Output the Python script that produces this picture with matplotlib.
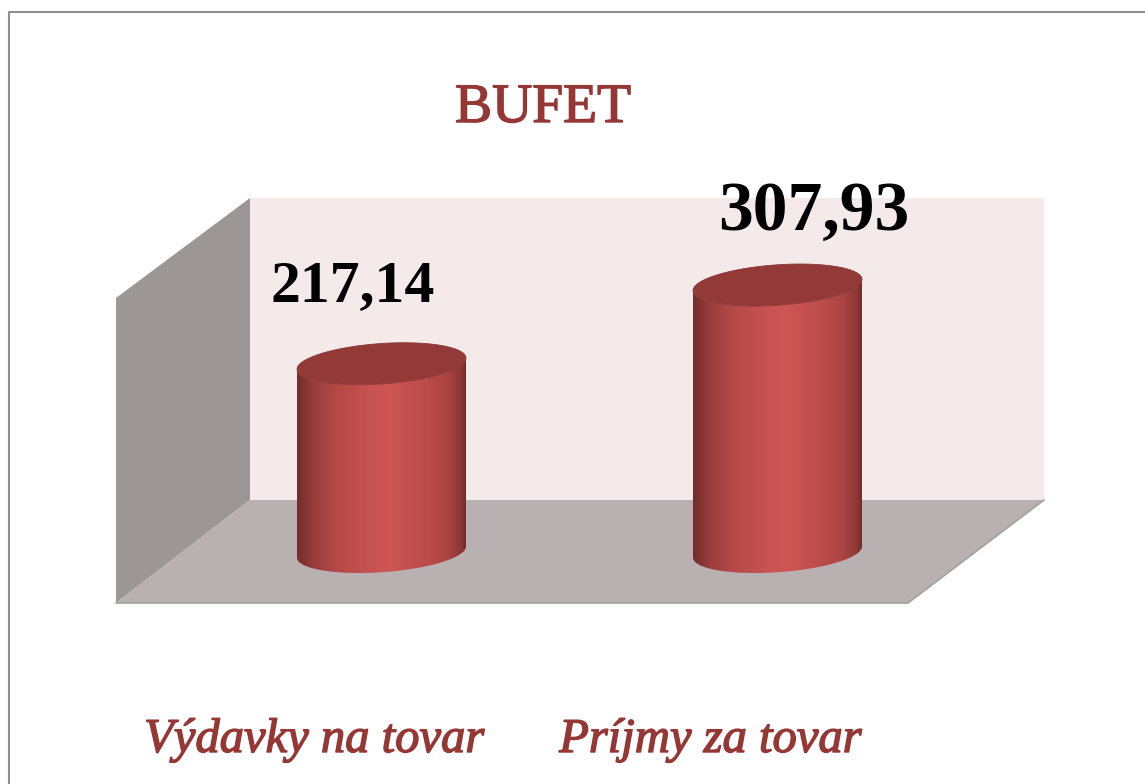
#!/usr/bin/env python3
"""BUFET - 3D style cylinder chart, expenses vs income on goods."""
import numpy as np
import matplotlib
matplotlib.use("Agg")
import matplotlib.pyplot as plt
import matplotlib.patheffects as pe
from matplotlib.colors import LinearSegmentedColormap
from matplotlib.patches import Polygon

categories = ["Výdavky na tovar", "Príjmy za tovar"]
values = [217.14, 307.93]
value_labels = ["217,14", "307,93"]
title = "BUFET"

W, H = 1145, 784
RED_TEXT = "#943735"
# cylinder x centre / baseline in pixels, and pixels per value unit
X0, DX = 381.5, 396.0
Y0, PX_PER_UNIT = 552.0, 0.867
RX, RY = 84.5, 21.0      # px, ellipse half extents
TILT = -0.27             # ellipse slant

fig = plt.figure(figsize=(W / 100, H / 100), dpi=100, facecolor="white")

# background box, in picture pixels
bg = fig.add_axes([0, 0, 1, 1])
bg.set_xlim(0, W); bg.set_ylim(H, 0); bg.axis("off")
bg.plot([8.5, 8.5, W], [H, 12, 12], color="#8f8f8f", lw=1.5)
bg.add_patch(Polygon([(250, 198), (1044, 198), (1044, 500), (250, 500)], fc="#f5eaea", ec="none"))
bg.add_patch(Polygon([(116, 298), (250, 198), (250, 500), (116, 603)], fc="#9c9696", ec="none"))
bg.add_patch(Polygon([(116, 603), (250, 500), (1044, 500), (908, 603)], fc="#b9b1b1", ec="none"))
bg.plot([116, 908, 1044], [603, 603, 500], color="#a3a0a0", lw=1.2)
bg.text(543, 122, title, color=RED_TEXT, fontsize=40, family="Liberation Serif",
        ha="center", va="baseline",
        path_effects=[pe.withStroke(linewidth=1.0, foreground=RED_TEXT)])

# value axes: same area, but x = category index and y = value
ax = fig.add_axes([0, 0, 1, 1], facecolor="none")
xlim = ((0 - X0) / DX, (W - X0) / DX)
ylim = ((Y0 - H) / PX_PER_UNIT, Y0 / PX_PER_UNIT)
ax.axis("off")

cyl_cmap = LinearSegmentedColormap.from_list("cyl", [
    (0.00, "#702d2d"), (0.03, "#7f3231"), (0.10, "#993d3c"), (0.22, "#b24846"),
    (0.42, "#c65251"), (0.55, "#ce5654"), (0.72, "#c04e4c"), (0.88, "#ae4543"),
    (0.97, "#8e3836"), (1.00, "#702d2d")])
gradient = np.linspace(0, 1, 256).reshape(1, -1)

rx = RX / DX
ry = RY / PX_PER_UNIT
t = np.linspace(0, 2 * np.pi, 200)

for i, v in enumerate(values):
    ex = i + rx * np.cos(t)
    ey = -ry * np.sin(t + TILT)   # y up, so flip sign against the picture

    # side of the cylinder: lower half of base ellipse, upper rim back across
    front = (t >= 0) & (t <= np.pi)
    base = np.column_stack([ex[front], ey[front]])
    top_rim = np.column_stack([ex[front][::-1], ey[front][::-1] + v])
    body = Polygon(np.vstack([base, top_rim]), closed=True, transform=ax.transData,
                   fc="none", ec="none")
    ax.add_patch(body)
    im = ax.imshow(gradient, cmap=cyl_cmap, aspect="auto", interpolation="bilinear",
                   extent=(i - rx, i + rx, -ry * 1.2, v + ry), zorder=2)
    im.set_clip_path(body)

    ax.add_patch(Polygon(np.column_stack([ex, ey + v]), fc="#933a38", ec="#8c3735",
                         lw=0.6, zorder=3))

ax.set_xlim(*xlim)
ax.set_ylim(*ylim)

# labels sit off the cylinder centre, as in the original
label_sizes = [43, 50]
label_offsets = [(-29, 63), (36, 55)]
for i, v in enumerate(values):
    ax.annotate(value_labels[i], (i, v), xytext=label_offsets[i], textcoords="offset pixels",
                ha="center", va="baseline", color="black", fontsize=label_sizes[i],
                family="Liberation Serif", fontweight="bold", zorder=5)

for i, name in enumerate(categories):
    ax.annotate(name, (i, 0), xytext=(-67, -200), textcoords="offset pixels",
                ha="center", va="baseline", color=RED_TEXT, fontsize=35,
                family="Liberation Serif", style="italic", zorder=5,
                path_effects=[pe.withStroke(linewidth=1.0, foreground=RED_TEXT)])

fig.savefig("out.png", dpi=100)
